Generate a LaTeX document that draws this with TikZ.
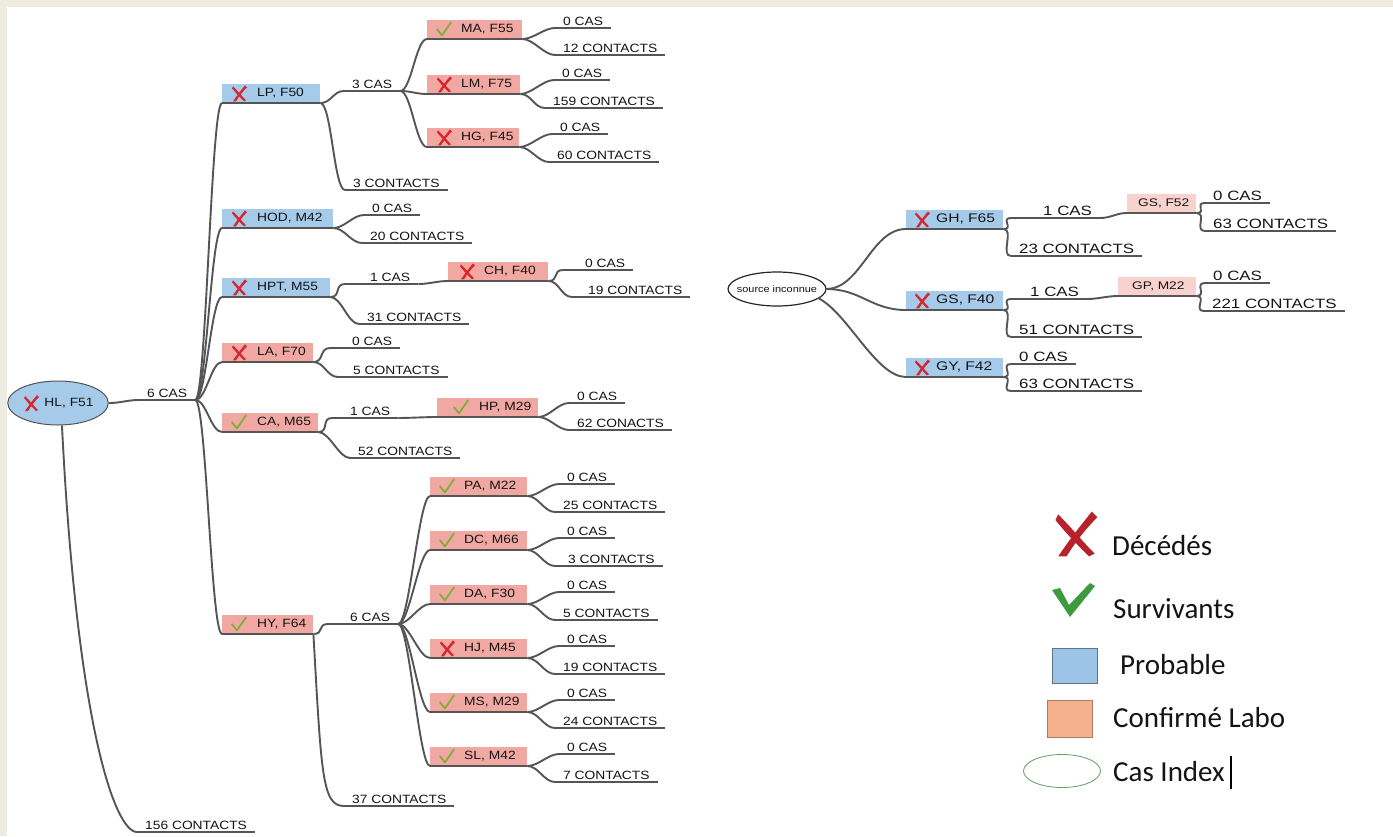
\documentclass[tikz,border=0pt]{standalone}
\usepackage{fontspec}
\setmainfont{Liberation Sans}
\newfontfamily\diagfont[FakeStretch=1.15]{Liberation Sans}
\newfontfamily\diagfontR[FakeStretch=1.25]{Liberation Sans}
\newfontfamily\legfont{Carlito}
\usetikzlibrary{calc,shapes.geometric}
\definecolor{bgframe}{HTML}{EEEBE0}
\definecolor{linegray}{HTML}{555555}
\definecolor{probblue}{HTML}{A6CBEA}
\definecolor{confpink}{HTML}{F2A8A2}
\definecolor{lightpink}{HTML}{F8D2CE}
\definecolor{xred}{HTML}{D8262E}
\definecolor{chkgreen}{HTML}{7FAE3A}
\definecolor{legred}{HTML}{B8232B}
\definecolor{leggreen}{HTML}{3E9A3E}
\definecolor{legblue}{HTML}{9DC3E6}
\definecolor{legorange}{HTML}{F5B08C}
\definecolor{txt}{HTML}{141414}
\tikzset{
  conn/.style={draw=linegray, line width=1.9},
  curvy/.style={to path={.. controls +(#1,0) and +(-#1,0) .. (\tikztotarget)}},
  curvy/.default=13,
  lbl/.style={font=\diagfont\fontsize{12}{14}\selectfont, text=txt, anchor=south west, inner xsep=8, inner ysep=2.5},
  lblR/.style={lbl, font=\diagfontR\fontsize{13.5}{15}\selectfont},
  casebox/.style={anchor=south west, minimum height=19, inner xsep=0, inner ysep=0, align=left, font=\diagfont\fontsize{12}{14}\selectfont, text=txt},
  casefontR/.style={font=\diagfontR\fontsize{12.5}{14}\selectfont},
  smallfontR/.style={font=\diagfontR\fontsize{11}{13}\selectfont},
  probbox/.style={casebox, fill=probblue},
  confbox/.style={casebox, fill=confpink},
  lightbox/.style={casebox, fill=lightpink},
  legtxt/.style={anchor=west, inner sep=0, font=\legfont\fontsize{29}{32}\selectfont, text=txt},
  pics/xmark/.style={code={
    \fill[#1] (-6,-7) .. controls (-1,-2) and (3,3) .. (7,7) -- (5,8) .. controls (1,4) and (-3,0) .. (-7,-5) -- cycle;
    \fill[#1] (6,-8) .. controls (2,-3) and (-2,2) .. (-6,8) -- (-3,8) .. controls (0,3) and (4,-2) .. (8,-6) -- cycle;
  }},
  pics/chkmark/.style={code={
    \draw[chkgreen, line width=1.8, line cap=round, line join=round] (-7,0) -- (-2,6) -- (7,-7);
  }},
  pics/bigchk/.style={code={
    \fill[leggreen] (-22,-10) -- (-14,-12) -- (-5,5) -- (16,-17) -- (21,-14) -- (-4,17) -- cycle;
  }},
}
\begin{document}
\begin{tikzpicture}[x=1pt,y=-1pt]
\useasboundingbox (0,0) rectangle (1393,836);
\fill[bgframe] (0,0) rectangle (1393,836);
\fill[white] (7,7) rectangle (1393,836);

% ---------- left tree ----------
\node[ellipse, draw=linegray, line width=1, fill=probblue, minimum width=100, minimum height=44, inner sep=0, font=\diagfont\fontsize{12}{14}\selectfont, text=txt] (root) at (58,403) {\hspace*{22pt}HL, F51};
\pic at (31,403) {xmark=xred};

\node[lbl] (cas6) at (139,400) {6 CAS};
\node[lbl] (c156) at (137,832) {156 CONTACTS};

\node[probbox, text width=98pt] (lp) at (222,103) {\hspace*{35pt}LP, F50};
\node[probbox, text width=111pt] (hod) at (222,228) {\hspace*{35pt}HOD, M42};
\node[probbox, text width=108pt] (hpt) at (222,297) {\hspace*{35pt}HPT, M55};
\node[confbox, text width=91pt] (la) at (222,362) {\hspace*{35pt}LA, F70};
\node[confbox, text width=96pt] (ca) at (222,432) {\hspace*{35pt}CA, M65};
\node[confbox, text width=91pt] (hy) at (222,634) {\hspace*{35pt}HY, F64};
\foreach \n in {lp,hod,hpt,la} \pic at ($(\n.west)+(17,0)$) {xmark=xred};
\foreach \n in {ca,hy} \pic at ($(\n.west)+(17,0)$) {chkmark};

% LP subtree
\node[lbl] (cas3) at (344,91) {3 CAS};
\node[lbl] (c3) at (345,190) {3 CONTACTS};
\node[confbox, text width=95pt] (ma) at (427,39) {\hspace*{34pt}MA, F55};
\node[confbox, text width=93pt] (lm) at (427,94) {\hspace*{34pt}LM, F75};
\node[confbox, text width=92pt] (hg) at (427,147) {\hspace*{34pt}HG, F45};
\pic at ($(ma.west)+(17,0)$) {chkmark};
\foreach \n in {lm,hg} \pic at ($(\n.west)+(17,0)$) {xmark=xred};
\node[lbl] (ma0) at (555,28) {0 CAS};
\node[lbl] (ma12) at (555,55) {12 CONTACTS};
\node[lbl] (lm0) at (554,80) {0 CAS};
\node[lbl] (lm159) at (545,108) {159 CONTACTS};
\node[lbl] (hg0) at (552,134) {0 CAS};
\node[lbl] (hg60) at (549,162) {60 CONTACTS};

% HOD
\node[lbl] (hod0) at (364,215) {0 CAS};
\node[lbl] (hod20) at (362,243) {20 CONTACTS};

% HPT
\node[lbl] (hpt1) at (345,284) {\hspace*{17pt}1 CAS};
\node[lbl] (hpt31) at (359,324) {31 CONTACTS};
\node[confbox, text width=100pt] (ch) at (448,281) {\hspace*{36pt}CH, F40};
\pic at ($(ch.west)+(19,0)$) {xmark=xred};
\node[lbl] (ch0) at (563,270) {\hspace*{14pt}0 CAS};
\node[lbl] (ch19) at (572,297) {\hspace*{8pt}19 CONTACTS};

% LA
\node[lbl] (la0) at (330,348) {\hspace*{14pt}0 CAS};
\node[lbl] (la5) at (338,377) {\hspace*{7pt}5 CONTACTS};

% CA
\node[lbl] (ca1) at (332,418) {\hspace*{10pt}1 CAS};
\node[lbl] (ca52) at (350,458) {52 CONTACTS};
\node[confbox, text width=101pt] (hp) at (437,417) {\hspace*{42pt}HP, M29};
\pic at ($(hp.west)+(24,0)$) {chkmark};
\node[lbl] (hp0) at (569,403) {0 CAS};
\node[lbl] (hp62) at (569,430) {62 CONACTS};

% HY
\node[lbl] (hy6) at (328,624) {\hspace*{14pt}6 CAS};
\node[lbl] (hy37) at (344,806) {37 CONTACTS};
\node[confbox, text width=97pt] (pa) at (430,496) {\hspace*{34pt}PA, M22};
\node[confbox, text width=97pt] (dc) at (430,550) {\hspace*{34pt}DC, M66};
\node[confbox, text width=97pt] (da) at (430,604) {\hspace*{34pt}DA, F30};
\node[confbox, text width=97pt] (hj) at (430,658) {\hspace*{34pt}HJ, M45};
\node[confbox, text width=97pt] (ms) at (430,712) {\hspace*{34pt}MS, M29};
\node[confbox, text width=97pt] (sl) at (430,766) {\hspace*{34pt}SL, M42};
\foreach \n in {pa,dc,da,ms,sl} \pic at ($(\n.west)+(17,0)$) {chkmark};
\pic at ($(hj.west)+(17,0)$) {xmark=xred};
\node[lbl] (pa0) at (559,484) {0 CAS};
\node[lbl] (pa25) at (555,512) {25 CONTACTS};
\node[lbl] (dc0) at (559,538) {0 CAS};
\node[lbl] (dc3) at (555,566) {\hspace*{5pt}3 CONTACTS};
\node[lbl] (da0) at (559,592) {0 CAS};
\node[lbl] (da5) at (555,620) {5 CONTACTS};
\node[lbl] (hj0) at (559,646) {0 CAS};
\node[lbl] (hj19) at (555,674) {19 CONTACTS};
\node[lbl] (ms0) at (559,700) {0 CAS};
\node[lbl] (ms24) at (555,728) {24 CONTACTS};
\node[lbl] (sl0) at (559,754) {0 CAS};
\node[lbl] (sl7) at (555,782) {7 CONTACTS};

% ---------- right tree ----------
\node[inner sep=0, font=\diagfont\fontsize{9.5}{11}\selectfont, text=txt] (src) at (777,289) {source inconnue};
\draw[black!85, line width=1.2] (src.center) ellipse [x radius=49, y radius=17];
\coordinate (srcE) at (826,289);
\coordinate (srcSE) at (818,298);
\node[probbox, casefontR, text width=97pt] (gh) at (906,229) {\hspace*{30pt}GH, F65};
\node[probbox, casefontR, text width=97pt] (gs) at (906,310) {\hspace*{30pt}GS, F40};
\node[probbox, casefontR, text width=97pt] (gy) at (906,377) {\hspace*{30pt}GY, F42};
\foreach \n in {gh,gs,gy} \pic at ($(\n.west)+(16,0)$) {xmark=xred};
\node[lblR] (gh1) at (1011,218) {\hspace*{24pt}1 CAS};
\node[lblR] (gh23) at (1011,256) {23 CONTACTS};
\node[lightbox, smallfontR, text width=69pt] (gs52) at (1127,213) {\hspace*{11pt}GS, F52};
\node[lblR] (gs520) at (1205,203) {0 CAS};
\node[lblR] (gs5263) at (1205,231) {63 CONTACTS};
\node[lblR] (gs1) at (1011,299) {\hspace*{11pt}1 CAS};
\node[lblR] (gs51) at (1011,337) {51 CONTACTS};
\node[lightbox, smallfontR, text width=78pt] (gp) at (1118,296) {\hspace*{14pt}GP, M22};
\node[lblR] (gp0) at (1205,283) {0 CAS};
\node[lblR] (gp221) at (1204,311) {221 CONTACTS};
\node[lblR] (gy0) at (1011,364) {0 CAS};
\node[lblR] (gy63) at (1011,391) {63 CONTACTS};

% ---------- underlines ----------
\foreach \n in {cas6,c156,lp,hod,hpt,la,ca,hy,cas3,c3,ma,lm,hg,ma0,ma12,lm0,lm159,hg0,hg60,
  hod0,hod20,hpt1,hpt31,ch,ch0,ch19,la0,la5,ca1,ca52,hp,hp0,hp62,hy6,hy37,
  pa,dc,da,hj,ms,sl,pa0,pa25,dc0,dc3,da0,da5,hj0,hj19,ms0,ms24,sl0,sl7,
  gh,gs,gy,gh1,gh23,gs52,gs520,gs5263,gs1,gs51,gp,gp0,gp221,gy0,gy63}
  \draw[conn] (\n.south west) -- (\n.south east);

% ---------- connectors ----------
\draw[conn] (root.east) to[curvy=12] (cas6.south west);
\draw[conn] (root.-80) .. controls +(15,300) and +(-22,0) .. (c156.south west);
\foreach \n in {lp,hod,hpt,la,ca,hy} \draw[conn] (cas6.south east) to[curvy=11] (\n.south west);
\foreach \n in {cas3,c3} \draw[conn] (lp.south east) to[curvy=11] (\n.south west);
\foreach \n in {ma,lm,hg} \draw[conn] (cas3.south east) to[curvy=11] (\n.south west);
\foreach \a/\b in {ma/ma0,ma/ma12,lm/lm0,lm/lm159,hg/hg0,hg/hg60,hod/hod0,hod/hod20,
  hpt/hpt1,hpt/hpt31,hpt1/ch,ch/ch0,ch/ch19,la/la0,la/la5,ca/ca1,ca/ca52,ca1/hp,hp/hp0,hp/hp62,
  hy/hy6,pa/pa0,pa/pa25,dc/dc0,dc/dc3,da/da0,da/da5,hj/hj0,hj/hj19,ms/ms0,ms/ms24,sl/sl0,sl/sl7,
  gh/gh1,gh/gh23,gh1/gs52,gs52/gs520,gs52/gs5263,gs/gs1,gs/gs51,gs1/gp,gp/gp0,gp/gp221,gy/gy0,gy/gy63}
  \draw[conn] (\a.south east) to[curvy=11] (\b.south west);
\draw[conn] (hy.south east) .. controls +(8,140) and +(-22,0) .. (hy37.south west);
\foreach \n in {pa,dc,da,hj,ms,sl} \draw[conn] (hy6.south east) to[curvy=11] (\n.south west);
\draw[conn] (srcE) to[curvy=35] (gh.south west);
\draw[conn] (srcE) to[curvy=35] (gs.south west);
\draw[conn] (srcSE) .. controls +(30,15) and +(-30,0) .. (gy.south west);

% ---------- legend ----------
\pic[scale=2.8] at (1075,534) {xmark=legred};
\node[legtxt] (l1) at (1112,546) {Décédés};
\pic at (1074,600) {bigchk};
\node[legtxt] (l2) at (1113,609) {Survivants};
\node[draw=legblue!60!black, fill=legblue, minimum width=45, minimum height=35, inner sep=0] (sq1) at (1074.5,665.5) {};
\node[legtxt] (l3) at (1120,665) {Probable};
\node[draw=legorange!70!black, fill=legorange, minimum width=45, minimum height=37, inner sep=0] (sq2) at (1069.5,718.5) {};
\node[legtxt] (l4) at (1113,718) {Confirmé Labo};
\node[ellipse, draw=gray!80!green, line width=0.8, fill=white, minimum width=77, minimum height=33, inner sep=0] (el) at (1062,771) {};
\node[legtxt] (l5) at (1113,772) {Cas Index};
\draw[black, line width=1.3] (l5.east) ++(6,-16) -- ++(0,33);
\end{tikzpicture}
\end{document}
